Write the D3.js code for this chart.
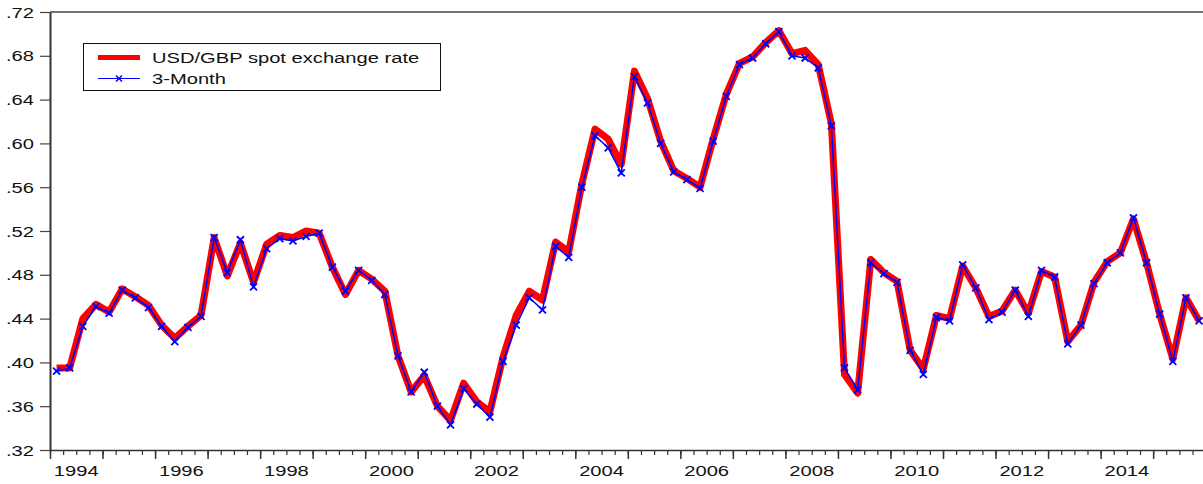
<!DOCTYPE html>
<html>
<head>
<meta charset="utf-8">
<script src="https://cdn.jsdelivr.net/npm/d3@7"></script>
<style>
    body { margin: 0; background: #fff; }
    svg text { font-family: "Liberation Sans", Arial, sans-serif; font-size: 15.5px; fill: #111; }
</style>
</head>
<body>
<svg id="svg-line-graph"></svg>
<script>
// Years shown on the axis (quarterly data, 1994Q1 - 2015Q4)
const years = [1994, 1995, 1996, 1997, 1998, 1999, 2000, 2001, 2002, 2003, 2004,
    2005, 2006, 2007, 2008, 2009, 2010, 2011, 2012, 2013, 2014, 2015];
const yearLabels = [1994, 1996, 1998, 2000, 2002, 2004, 2006, 2008, 2010, 2012, 2014];
const yTicks = [0.32, 0.36, 0.40, 0.44, 0.48, 0.52, 0.56, 0.60, 0.64, 0.68, 0.72];

// USD/GBP spot exchange rate
const spotRate = [
    0.395, 0.395, 0.440, 0.453, 0.446, 0.467, 0.460, 0.452,
    0.434, 0.422, 0.433, 0.443, 0.514, 0.479, 0.509, 0.473,
    0.508, 0.516, 0.514, 0.520, 0.518, 0.487, 0.462, 0.484,
    0.476, 0.465, 0.406, 0.373, 0.388, 0.360, 0.347, 0.381,
    0.364, 0.355, 0.405, 0.443, 0.465, 0.457, 0.510, 0.501,
    0.563, 0.613, 0.604, 0.581, 0.666, 0.641, 0.602, 0.575,
    0.568, 0.560, 0.604, 0.645, 0.673, 0.679, 0.692, 0.703,
    0.682, 0.685, 0.672, 0.618, 0.389, 0.372, 0.494, 0.482,
    0.474, 0.411, 0.394, 0.443, 0.440, 0.488, 0.468, 0.442,
    0.447, 0.466, 0.445, 0.483, 0.478, 0.419, 0.434, 0.473,
    0.492, 0.500, 0.531, 0.491, 0.444, 0.403, 0.459, 0.438
];

// 3-Month forward rate
const forward3M = [
    0.392, 0.395, 0.433, 0.451, 0.445, 0.466, 0.459, 0.450,
    0.433, 0.419, 0.432, 0.442, 0.514, 0.482, 0.512, 0.469,
    0.504, 0.513, 0.511, 0.515, 0.518, 0.487, 0.465, 0.484,
    0.475, 0.462, 0.406, 0.373, 0.391, 0.360, 0.343, 0.376,
    0.362, 0.350, 0.401, 0.434, 0.459, 0.448, 0.506, 0.496,
    0.560, 0.607, 0.596, 0.573, 0.661, 0.637, 0.600, 0.574,
    0.567, 0.559, 0.602, 0.643, 0.672, 0.678, 0.691, 0.702,
    0.680, 0.678, 0.669, 0.616, 0.395, 0.375, 0.491, 0.481,
    0.473, 0.411, 0.389, 0.441, 0.438, 0.489, 0.468, 0.439,
    0.446, 0.466, 0.442, 0.484, 0.478, 0.417, 0.434, 0.472,
    0.491, 0.500, 0.532, 0.491, 0.444, 0.401, 0.459, 0.438
];

(function() {

    const w = 1203;
    const h = 484;
    const left = 50;
    const top = 12;
    const bottom = 450;
    const yearWidth = 52.53;
    const stretch = 1.3;

    const nQuarters = years.length * 4;

    // Scale X (quarter index, point sits in the middle of its quarter)
    const scaleX = d3.scaleLinear()
        .domain([0, nQuarters])
        .range([left, left + years.length * yearWidth]);

    // Scale Y
    const scaleY = d3.scaleLinear()
        .domain([0.32, 0.72])
        .range([bottom, top]);

    const svg = d3.select('#svg-line-graph')
        .attr('width', w)
        .attr('height', h);

    // Top border
    svg.append('line')
        .attr('x1', left).attr('x2', w)
        .attr('y1', top).attr('y2', top)
        .attr('stroke', '#444').attr('stroke-width', 1.5);

    // Minor X ticks (quarters)
    const minorAxis = d3.axisBottom(scaleX)
        .tickValues(d3.range(0, nQuarters + 1))
        .tickSize(5)
        .tickFormat('');
    svg.append('g')
        .attr('transform', `translate(0, ${bottom})`)
        .call(minorAxis)
        .call(g => g.select('.domain').remove())
        .selectAll('line').attr('stroke', '#333').attr('stroke-width', 1.2);

    // Major X ticks (years)
    const majorAxis = d3.axisBottom(scaleX)
        .tickValues(years.map((d, i) => i * 4))
        .tickSize(9)
        .tickSizeOuter(0)
        .tickFormat('');
    const xAxisG = svg.append('g')
        .attr('id', 'x-axis')
        .attr('transform', `translate(0, ${bottom})`)
        .call(majorAxis);
    xAxisG.selectAll('line').attr('stroke', '#333').attr('stroke-width', 1.5);
    xAxisG.select('.domain').attr('stroke', '#333').attr('stroke-width', 1.5);

    // Year labels, centred on the year
    svg.append('g').selectAll('text')
        .data(yearLabels)
        .join('text')
        .attr('text-anchor', 'middle')
        .attr('transform', d => {
            const x = scaleX((d - years[0]) * 4 + 2);
            return `translate(${x}, 476) scale(${stretch}, 1)`;
        })
        .text(d => d);

    // Y Axis
    const yAxis = d3.axisLeft(scaleY)
        .tickValues(yTicks)
        .tickSize(10)
        .tickSizeOuter(0)
        .tickFormat('');
    const yAxisG = svg.append('g')
        .attr('id', 'y-axis')
        .attr('transform', `translate(${left}, 0)`)
        .call(yAxis);
    yAxisG.selectAll('line').attr('stroke', '#444').attr('stroke-width', 1.2);
    yAxisG.select('.domain').attr('stroke', '#333').attr('stroke-width', 2);

    svg.append('g').selectAll('text')
        .data(yTicks)
        .join('text')
        .attr('text-anchor', 'end')
        .attr('transform', d => `translate(34, ${scaleY(d) + 5.5}) scale(${stretch}, 1)`)
        .text(d => d3.format('.2f')(d).replace(/^0/, ''));

    // Lines
    const line = d3.line()
        .x((d, i) => scaleX(i + 0.5))
        .y(d => scaleY(d));

    svg.append('path')
        .datum(spotRate)
        .attr('fill', 'none')
        .attr('stroke', '#ff0000')
        .attr('stroke-width', 7)
        .attr('stroke-linejoin', 'round')
        .attr('d', line);

    svg.append('path')
        .datum(forward3M)
        .attr('fill', 'none')
        .attr('stroke', '#0000ff')
        .attr('stroke-width', 1.5)
        .attr('d', line);

    // Cross markers
    const cross = (x, y, s) => `M${x - s},${y - s}L${x + s},${y + s}M${x - s},${y + s}L${x + s},${y - s}`;

    svg.append('g').selectAll('path')
        .data(forward3M)
        .join('path')
        .attr('d', (d, i) => cross(scaleX(i + 0.5), scaleY(d), 3.5))
        .attr('stroke', '#0000ff')
        .attr('stroke-width', 1.8);

    // Legend
    const legend = svg.append('g').attr('id', 'legend');

    legend.append('rect')
        .attr('x', 83.5).attr('y', 43.5)
        .attr('width', 357).attr('height', 47)
        .attr('fill', '#fff')
        .attr('stroke', '#111').attr('stroke-width', 1);

    legend.append('line')
        .attr('x1', 98).attr('x2', 140)
        .attr('y1', 57.5).attr('y2', 57.5)
        .attr('stroke', '#ff0000').attr('stroke-width', 5);

    legend.append('line')
        .attr('x1', 98).attr('x2', 140)
        .attr('y1', 78.5).attr('y2', 78.5)
        .attr('stroke', '#0000ff').attr('stroke-width', 1.2);

    legend.append('path')
        .attr('d', cross(119, 78.5, 3))
        .attr('stroke', '#0000ff').attr('stroke-width', 1.5);

    legend.append('text')
        .attr('transform', `translate(152, 63) scale(${stretch}, 1)`)
        .text('USD/GBP spot exchange rate');

    legend.append('text')
        .attr('transform', `translate(152, 84) scale(${stretch}, 1)`)
        .text('3-Month');

})();
</script>
</body>
</html>
